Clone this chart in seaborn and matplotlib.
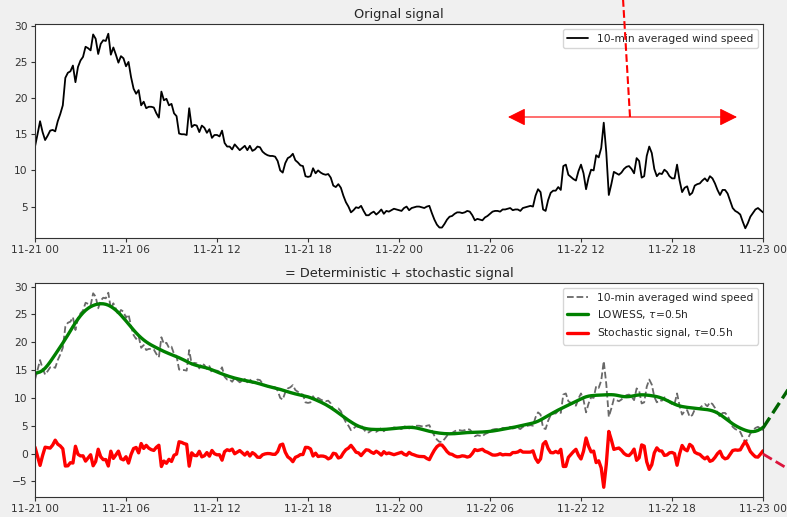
import numpy as np
import pandas as pd
import seaborn as sns
import matplotlib.dates as mdates
from matplotlib import pyplot as plt
from matplotlib.lines import Line2D
from matplotlib.patches import FancyArrowPatch


# 10-min averaged wind speed
speed_day1 = [
    13.3, 15.0, 16.8, 15.3, 14.2, 14.8, 15.5, 15.6, 15.4, 16.8,
    17.8, 19.0, 22.8, 23.5, 23.7, 24.5, 22.2, 24.3, 25.2, 25.7,
    27.1, 26.9, 26.6, 28.8, 28.2, 26.1, 27.5, 28.0, 27.9, 28.9,
    26.0, 27.0, 26.0, 24.9, 25.8, 25.5, 24.4, 25.0, 22.9, 21.3,
    20.6, 21.1, 19.0, 19.5, 18.6, 18.8, 18.8, 18.7, 17.9, 17.3,
    20.9, 19.7, 19.9, 19.0, 19.2, 17.9, 17.5, 15.1, 15.0, 15.0,
    14.9, 18.6, 16.0, 16.3, 16.2, 15.3, 16.2, 15.9, 15.2, 15.7,
    14.5, 14.9, 14.9, 14.7, 15.5, 13.8, 13.3, 13.3, 12.9, 13.6,
    13.2, 12.8, 13.1, 13.4, 12.8, 13.4, 12.7, 12.9, 13.3, 13.2,
    12.6, 12.3, 12.1, 12.0, 12.0, 11.9, 11.3, 10.0, 9.7, 11.0,
    11.7, 11.9, 12.3, 11.4, 11.1, 10.7, 10.6, 9.2, 9.1, 9.2,
    10.3, 9.6, 10.0, 9.7, 9.5, 9.4, 9.5, 9.0, 7.9, 7.7,
    8.1, 7.6, 6.5, 5.6, 5.0, 4.2, 4.5, 4.9, 4.8, 5.1,
    4.4, 3.8, 3.8, 4.1, 4.3, 3.9, 4.2, 4.6, 4.0, 4.4,
    4.3, 4.5, 4.7, 4.6, 4.5,
]
speed_day2 = [
    4.4, 4.8, 5.0, 4.5, 4.8, 4.9, 5.0, 5.0, 4.9, 4.8,
    5.0, 5.1, 4.1, 3.2, 2.5, 2.1, 2.1, 2.6, 3.2, 3.6,
    3.7, 4.0, 4.2, 4.2, 4.1, 4.2, 4.4, 4.3, 3.8, 3.1,
    3.3, 3.2, 3.1, 3.5, 3.7, 4.0, 4.3, 4.4, 4.4, 4.3,
    4.6, 4.6, 4.7, 4.8, 4.5, 4.6, 4.6, 4.4, 4.8, 4.9,
    5.0, 5.1, 5.0, 6.5, 7.4, 7.0, 4.6, 4.4, 5.9, 6.9,
    7.2, 7.2, 7.7, 7.3, 10.6, 10.8, 9.4, 9.1, 8.8, 8.6,
    9.9, 10.8, 9.6, 7.4, 9.0, 10.1, 10.0, 12.1, 11.8, 13.1,
    16.6, 12.5, 6.6, 8.1, 9.8, 9.6, 9.4, 9.7, 10.2, 10.5,
    10.6, 10.2, 9.6, 11.7, 11.3, 9.0, 9.2, 12.0, 13.3, 12.4,
    10.2, 9.2, 9.6, 9.5, 10.1, 9.8, 9.2, 8.9, 8.9, 10.8,
    8.6, 7.0, 7.6, 7.8, 6.6, 6.9, 7.9, 8.1, 8.2, 8.6,
    8.9, 8.5, 9.2, 8.9, 8.2, 7.3, 6.6, 7.3, 7.3, 6.8,
    5.8, 4.8, 4.4, 4.2, 3.9, 2.9, 2.0, 2.7, 3.6, 4.1,
    4.6, 4.8, 4.5, 4.2,
]
START = '2018-11-21 00:00'
LOWESS_SPAN_H = 2.1  # half width of the tricube window, hours

W, H = 787, 517


def lowess(t, y, h):
    # local linear fit with tricube weights
    out = np.empty_like(y)
    for i, t0 in enumerate(t):
        w = np.clip(1 - (np.abs(t - t0) / h) ** 3, 0, None) ** 3
        tm = (w * t).sum() / w.sum()
        ym = (w * y).sum() / w.sum()
        b = (w * (t - tm) * (y - ym)).sum() / (w * (t - tm) ** 2).sum()
        out[i] = ym + b * (t0 - tm)
    return out


speed = np.array(speed_day1 + speed_day2)
df = pd.DataFrame({
    'time': pd.date_range(START, periods=len(speed), freq='10min'),
    'speed': speed,
})
hours = np.arange(len(df)) / 6.0
df['lowess'] = lowess(hours, speed, LOWESS_SPAN_H)
df['stochastic'] = df.lowess - df.speed

sns.set_style('ticks', {'axes.edgecolor': '.2'})
plt.rcParams['font.family'] = ['DejaVu Sans']
plt.rcParams['xtick.labelsize'] = 7.7
plt.rcParams['ytick.labelsize'] = 7.7
plt.rcParams['xtick.major.size'] = 2.7
plt.rcParams['ytick.major.size'] = 2.7
plt.rcParams['xtick.color'] = '.2'
plt.rcParams['ytick.color'] = '.2'

fig = plt.figure(figsize=(W / 100, H / 100), dpi=100, facecolor='#f0f0f0')
ax1 = fig.add_axes([35 / W, 1 - 238 / H, 728 / W, 214 / H])
ax2 = fig.add_axes([35 / W, 1 - 497 / H, 728 / W, 214 / H])

sns.lineplot(data=df, x='time', y='speed', ax=ax1, color='k', lw=1.3,
             label='10-min averaged wind speed')
ax1.set_title('Orignal signal', fontsize=9.3, pad=4)

sns.lineplot(data=df, x='time', y='speed', ax=ax2, color='dimgray', lw=1.3, ls='--',
             label='10-min averaged wind speed')
sns.lineplot(data=df, x='time', y='lowess', ax=ax2, color='green', lw=2.4,
             label=r'LOWESS, $\tau$=0.5h')
sns.lineplot(data=df, x='time', y='stochastic', ax=ax2, color='red', lw=2.4,
             label=r'Stochastic signal, $\tau$=0.5h')
ax2.set_title('= Deterministic + stochastic signal', fontsize=9.3, pad=4)

for ax in (ax1, ax2):
    ax.set_xlim(df.time.iloc[0], df.time.iloc[-1])
    ax.xaxis.set_major_locator(mdates.HourLocator(byhour=[0, 6, 12, 18]))
    ax.xaxis.set_major_formatter(mdates.DateFormatter('%m-%d %H'))
    ax.set_xlabel('')
    ax.set_ylabel('')
    ax.tick_params(pad=2.5)
    ax.legend(loc='upper right', fontsize=7.7, frameon=True, fancybox=True,
              framealpha=0.8, edgecolor='.8')
ax1.set_yticks([5, 10, 15, 20, 25, 30])
ax2.set_yticks([-5, 0, 5, 10, 15, 20, 25, 30])


def fig_xy(x, y):
    return x / W, 1 - y / H


# connector lines that run off the figure edge
for (x0, y0), (x1, y1), color, lw in [
    ((630, 117), (622.5, -10), 'red', 1.5),
    ((763, 428), (795, 379), '#006400', 2.4),
    ((763, 454), (795, 473), '#dc143c', 2.0),
]:
    fx, fy = zip(fig_xy(x0, y0), fig_xy(x1, y1))
    fig.add_artist(Line2D(fx, fy, transform=fig.transFigure, color=color, lw=lw, ls='--'))

fig.add_artist(FancyArrowPatch(
    fig_xy(508, 117), fig_xy(737, 117), transform=fig.transFigure,
    arrowstyle='<|-|>,head_length=1.08,head_width=0.54', mutation_scale=10,
    color='red', lw=0.8, shrinkA=0, shrinkB=0,
))

fig.savefig('out.png', dpi=100, facecolor=fig.get_facecolor())
